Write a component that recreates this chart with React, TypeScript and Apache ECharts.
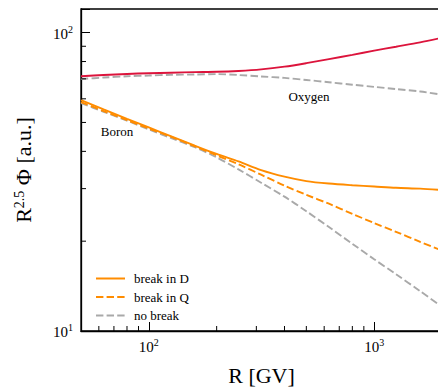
import React, { useEffect, useRef } from 'react';
import * as echarts from 'echarts';

// Rigidity grid (GV) shared by every curve, roughly 0.1 decade apart
const rigidity = [50, 63, 80, 100, 125, 160, 200, 250, 315, 400, 500, 630, 800, 1000, 1250, 1600, 2000];

// Oxygen: R^2.5-weighted flux (a.u.)
const oxygenBreak = [71.4, 72.1, 72.7, 73.1, 73.4, 73.7, 73.9, 74.4, 75.3, 76.9, 79.0, 81.5, 84.2, 87.0, 89.7, 92.8, 96.1];
const oxygenNoBreak = [69.9, 70.7, 71.4, 71.8, 72.2, 72.4, 72.6, 72.1, 71.3, 70.5, 69.4, 68.2, 66.9, 65.8, 64.7, 63.5, 61.9];

// Boron: R^2.5-weighted flux (a.u.)
const boronBreakD = [59.4, 55.3, 51.4, 48.1, 45.0, 41.8, 39.2, 37.0, 34.6, 32.9, 31.8, 31.2, 30.8, 30.5, 30.2, 30.0, 29.7];
const boronBreakQ = [58.5, 54.6, 50.9, 47.7, 44.8, 41.6, 38.8, 36.2, 33.4, 30.7, 28.6, 26.7, 24.7, 23.0, 21.5, 19.9, 18.6];
const boronNoBreak = [58.0, 54.3, 50.7, 47.4, 44.4, 41.3, 38.2, 34.8, 31.4, 28.2, 25.2, 22.3, 19.6, 17.4, 15.5, 13.6, 12.05];

// Minor tick positions on the log axes
const xMinorTicks = [60, 70, 80, 90, 200, 300, 400, 500, 600, 700, 800, 900];
const yMinorTicks = [20, 30, 40, 50, 60, 70, 80, 90];

const legendNames = ['break in D', 'break in Q', 'no break'];

const SERIF = '"Liberation Serif", "DejaVu Serif", serif';
const RED = '#dc143c';
const ORANGE = '#ff8c00';
const GRAY = '#a9a9a9';
const DASH = [7.4, 3.2];

const pair = (ys: number[]) => rigidity.map((x, i) => [x, ys[i]]);

function powerLabel(v: number): string {
  const e = Math.log10(v);
  if (Math.abs(e - Math.round(e)) > 1e-6) return '';
  return `{b|10}{s|${Math.round(e)}}`;
}

const labelRich = {
  b: { fontFamily: SERIF, fontSize: 15, color: '#000', verticalAlign: 'bottom' },
  s: { fontFamily: SERIF, fontSize: 10, color: '#000', verticalAlign: 'bottom', padding: [0, 0, 7, 0] },
};

function curve(name: string, ys: number[], color: string, dashed: boolean, z: number) {
  return {
    type: 'line',
    name,
    data: pair(ys),
    smooth: 0.3,
    symbol: 'none',
    showSymbol: false,
    z,
    lineStyle: { color, width: 1.9, type: dashed ? DASH : 'solid' },
    itemStyle: { color },
    emphasis: { disabled: true },
  };
}

function minorTickSeries(data: number[][], vertical: boolean) {
  return {
    type: 'custom',
    name: vertical ? 'xMinor' : 'yMinor',
    coordinateSystem: 'cartesian2d',
    silent: true,
    z: 10,
    data,
    renderItem: (_params: any, api: any) => {
      const p = api.coord([api.value(0), api.value(1)]);
      return {
        type: 'line',
        shape: vertical
          ? { x1: p[0], y1: p[1], x2: p[0], y2: p[1] - 5 }
          : { x1: p[0], y1: p[1], x2: p[0] + 5, y2: p[1] },
        style: { stroke: '#000', lineWidth: 1 },
      };
    },
  };
}

export default function App() {
  const ref = useRef<HTMLDivElement>(null);

  useEffect(() => {
    if (!ref.current) return;
    const chart = echarts.init(ref.current, undefined, { renderer: 'svg' });
    const axisCommon = {
      type: 'log',
      logBase: 10,
      axisLine: { show: true, lineStyle: { color: '#000', width: 1.3 } },
      axisTick: { show: true, inside: true, length: 9, lineStyle: { color: '#000', width: 1 } },
      axisLabel: { formatter: powerLabel, color: '#000', rich: labelRich },
      splitLine: { show: false },
      minorTick: { show: false },
      minorSplitLine: { show: false },
      nameLocation: 'middle',
    };
    chart.setOption({
      animation: false,
      backgroundColor: '#fff',
      grid: {
        left: 81,
        top: 9,
        width: 361,
        height: 322,
        containLabel: false,
        outerBoundsMode: 'none',
        show: true,
        borderColor: '#000',
        borderWidth: 1.3,
        backgroundColor: 'transparent',
      },
      xAxis: {
        ...axisCommon,
        min: 50,
        max: 2000,
        axisLabel: { ...axisCommon.axisLabel, margin: 6 },
        name: 'R [GV]',
        nameGap: 33,
        nameTextStyle: { fontFamily: SERIF, fontSize: 22, color: '#000' },
      },
      yAxis: {
        ...axisCommon,
        min: 10,
        max: 120,
        axisLabel: { ...axisCommon.axisLabel, margin: 8 },
        name: 'R{s|2.5} Φ [a.u.]',
        nameRotate: 90,
        nameGap: 46,
        nameTextStyle: {
          fontFamily: SERIF,
          fontSize: 22,
          color: '#000',
          rich: {
            s: { fontFamily: SERIF, fontSize: 14, color: '#000', verticalAlign: 'bottom', padding: [0, 0, 9, 0] },
          },
        },
      },
      legend: {
        data: legendNames,
        orient: 'vertical',
        left: 90,
        top: 267,
        itemWidth: 29,
        itemHeight: 14,
        itemGap: 5.5,
        itemStyle: { opacity: 0, borderWidth: 0 },
        textStyle: { fontFamily: SERIF, fontSize: 13, color: '#000', padding: [0, 0, 0, 4] },
        selectedMode: false,
      },
      graphic: [
        {
          type: 'text',
          x: 117,
          y: 131,
          style: { text: 'Boron', font: `13px ${SERIF}`, fill: '#000', align: 'center', verticalAlign: 'middle' },
        },
        {
          type: 'text',
          x: 309,
          y: 96,
          style: { text: 'Oxygen', font: `13px ${SERIF}`, fill: '#000', align: 'center', verticalAlign: 'middle' },
        },
      ],
      series: [
        curve('no break', oxygenNoBreak, GRAY, true, 2),
        curve('Oxygen', oxygenBreak, RED, false, 3),
        curve('no break', boronNoBreak, GRAY, true, 2),
        curve('break in Q', boronBreakQ, ORANGE, true, 3),
        curve('break in D', boronBreakD, ORANGE, false, 4),
        minorTickSeries(xMinorTicks.map((v) => [v, 10]), true),
        minorTickSeries(yMinorTicks.map((v) => [50, v]), false),
      ],
    });
    return () => chart.dispose();
  }, []);

  return (
    <div
      ref={ref}
      style={{ position: 'absolute', left: 0, top: 0, width: 438, height: 391 }}
    />
  );
}
